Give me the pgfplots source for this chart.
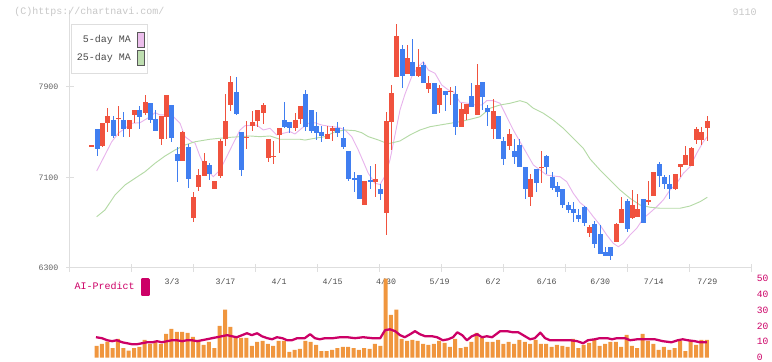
\documentclass[border=0pt]{standalone}
\usepackage{fontspec}
\setmainfont{Liberation Mono}
\usepackage{pgfplots}
\pgfplotsset{compat=1.18}
\usepackage{pgfplotstable}

\definecolor{upred}{RGB}{240,82,62}
\definecolor{dnblue}{RGB}{64,126,240}
\definecolor{maP}{RGB}{232,180,236}
\definecolor{maG}{RGB}{180,218,166}
\definecolor{legP}{RGB}{236,190,236}
\definecolor{legG}{RGB}{190,222,176}
\definecolor{volor}{RGB}{240,150,62}
\definecolor{aicol}{RGB}{204,0,102}
\definecolor{axgray}{RGB}{222,222,222}
\definecolor{lblgray}{RGB}{100,100,100}

\pgfplotstableread{
i O H L C u
1 7380 7380 7380 7380 1
2 7529 7529 7293 7355 0
3 7378 7584 7370 7584 1
4 7584 7717 7505 7644 1
5 7608 7644 7446 7470 0
6 7623 7732 7470 7623 1
7 7608 7679 7461 7529 0
8 7529 7608 7461 7608 1
9 7653 7697 7579 7697 1
10 7697 7732 7529 7637 0
11 7673 7829 7653 7765 1
12 7759 7759 7584 7608 0
13 7614 7697 7511 7511 0
14 7440 7646 7387 7646 1
15 7637 7829 7440 7829 1
16 7741 7741 7416 7452 0
17 7308 7367 7063 7249 0
18 7249 7511 7249 7505 1
19 7372 7396 7005 7087 0
20 6745 6975 6709 6930 1
21 7019 7175 6981 7122 1
22 7116 7314 7116 7246 1
23 7211 7231 7078 7134 0
24 7001 7069 7001 7069 1
25 7116 7440 7098 7423 1
26 7440 7838 7381 7600 1
27 7741 7997 7688 7944 1
28 7856 7988 7653 7661 0
29 7502 7502 7113 7166 0
30 7458 7600 7352 7458 1
31 7555 7688 7511 7591 1
32 7600 7697 7546 7697 1
33 7670 7759 7573 7741 1
34 7272 7440 7237 7440 1
35 7290 7423 7219 7290 1
36 7476 7538 7317 7538 1
37 7608 7767 7538 7546 0
38 7591 7591 7493 7538 0
39 7538 7670 7511 7608 1
40 7617 7732 7573 7732 1
41 7838 7874 7514 7544 0
42 7697 7697 7496 7514 0
43 7555 7679 7432 7496 0
44 7502 7555 7416 7470 0
45 7440 7555 7440 7485 1
46 7514 7555 7425 7538 1
47 7538 7591 7461 7496 0
48 7449 7544 7352 7370 0
49 7334 7334 7069 7087 0
50 7096 7149 6972 7075 0
51 7122 7122 6910 6910 0
52 6857 7069 6857 7069 1
53 7078 7202 6998 7063 0
54 7060 7219 6928 7087 1
55 6998 7043 6901 6954 0
56 6786 7679 6592 7600 1
57 7593 7918 7343 7847 1
58 7988 8457 7988 8351 1
59 8236 8271 7894 8000 0
60 8015 8271 8015 8156 1
61 8121 8324 7997 7997 0
62 7997 8236 7988 8077 1
63 8095 8121 7938 7938 0
64 7885 7997 7850 7935 1
65 7935 7935 7664 7664 0
66 7744 7918 7673 7891 1
67 7867 7867 7690 7829 0
68 7862 7900 7744 7862 1
69 7838 7909 7476 7546 0
70 7546 7759 7546 7706 1
71 7664 7750 7608 7750 1
72 7820 7935 7726 7726 0
73 7655 8103 7655 7918 1
74 7944 7944 7697 7814 0
75 7714 7744 7555 7682 0
76 7529 7794 7440 7688 1
77 7644 7644 7440 7440 0
78 7423 7458 7211 7264 0
79 7378 7529 7343 7485 1
80 7334 7440 7219 7281 0
81 7387 7440 7193 7193 0
82 7193 7193 6910 6998 0
83 6928 7131 6848 7087 1
84 7175 7175 6972 7051 0
85 7193 7334 7051 7193 1
86 7290 7299 7131 7193 0
87 7104 7149 6990 7007 0
88 7025 7060 6928 6972 0
89 6998 6998 6830 6857 0
90 6857 6883 6786 6813 0
91 6822 6883 6707 6786 0
92 6769 6822 6707 6733 0
93 6839 6848 6671 6698 0
94 6609 6680 6574 6662 1
95 6689 6716 6477 6512 0
96 6600 6680 6424 6424 0
97 6441 6486 6406 6406 0
98 6486 6486 6371 6406 0
99 6530 6698 6530 6689 1
100 6698 6928 6698 6822 1
101 6892 6910 6618 6645 0
102 6742 6990 6733 6857 1
103 6751 6954 6751 6822 1
104 6910 6910 6698 6698 0
105 6883 7069 6857 6901 1
106 6936 7149 6936 7149 1
107 7219 7237 7016 7113 0
108 7104 7122 6998 7043 0
109 7043 7122 6910 6998 0
110 6998 7131 6990 7131 1
111 7193 7219 7104 7219 1
112 7211 7378 7211 7299 1
113 7202 7367 7202 7361 1
114 7432 7546 7396 7529 1
115 7432 7546 7387 7502 1
116 7538 7644 7423 7600 1
}\candles

\pgfplotstableread{
i v
2 7.4
3 8.7
4 10.1
5 6.1
6 11.8
7 6.1
8 4.4
9 6.1
10 6.8
11 11.2
12 8.7
13 9.9
14 8.7
15 15.0
16 18.2
17 16.3
18 16.3
19 15.6
20 13.1
21 11.2
22 8.0
23 9.9
24 6.1
25 20.1
26 30.2
27 19.4
28 13.1
29 12.5
30 12.5
31 7.4
32 9.9
33 10.6
34 8.7
35 7.4
36 10.6
37 10.6
38 3.6
39 4.9
40 5.5
41 10.6
42 9.9
43 8.0
44 4.2
45 4.2
46 4.9
47 6.1
48 6.8
49 6.8
50 6.1
51 4.9
52 6.1
53 5.5
54 8.7
55 7.4
56 49.8
57 27.0
58 30.2
59 11.8
60 10.6
61 11.2
62 10.6
63 8.7
64 8.0
65 8.7
66 10.6
67 9.3
68 6.8
69 11.8
70 6.1
71 6.8
72 9.9
73 15.6
74 12.5
75 9.9
76 9.9
77 11.2
78 8.7
79 9.9
80 8.7
81 11.2
82 9.9
83 8.7
84 11.2
85 8.7
86 8.7
87 6.8
88 8.0
89 7.4
90 6.8
91 11.8
92 6.1
93 8.0
94 9.3
95 11.2
96 7.4
97 8.7
98 9.9
99 9.9
100 6.8
101 14.4
102 7.4
103 6.1
104 15.0
105 10.6
106 8.7
107 4.9
108 6.8
109 4.9
110 6.1
111 10.6
112 4.2
113 10.6
114 8.0
115 11.2
116 11.2
}\volume

\begin{document}
\begin{tikzpicture}
\begin{axis}[
  at={(52.5pt,69.75pt)}, anchor=south west,
  scale only axis, width=511.5pt, height=193.5pt,
  xmin=-3.054, xmax=124.35, ymin=6300, ymax=8580.66,
  axis x line=bottom, axis y line=left,
  axis line style={draw=axgray, line width=0.75pt, -},
  xtick={-3.054,8.528,20.110,31.692,43.274,54.856,66.438,78.020,89.602,101.184,112.766,124.348},
  xticklabels={},
  extra x ticks={16,26,36,46,56,66,76,86,96,106,116},
  extra x tick labels={3/3,3/17,4/1,4/15,4/30,5/19,6/2,6/16,6/30,7/14,7/29},
  extra x tick style={major tick length=0pt, tick style={draw=none},
    xticklabel style={font=\fontsize{6.2}{7}\selectfont, text=black!70, inner sep=0pt, anchor=north, yshift=-8pt}},
  ytick={6300,7100,7900}, yticklabels={6300,7100,7900},
  yticklabel style={font=\fontsize{6.2}{7}\selectfont, text=lblgray, inner sep=0pt, anchor=east, xshift=-5.5pt},
  tick style={draw=axgray, line width=0.75pt},
  major tick length=6pt, tick align=center,
  legend plot pos=right, legend cell align=right,
  legend style={at={(axis description cs:0,1)}, anchor=north west, xshift=0.5pt, yshift=-10.5pt,
    draw=axgray, line width=0.75pt, fill=white, font=\fontsize{7.5}{8.5}\selectfont, text=black!70,
    inner xsep=2.3pt, inner ysep=5.6pt, row sep=1.6pt, column sep=2.8pt},
]
\addplot[maP, line width=0.7pt, legend image code/.code={\draw[draw=black!65, fill=legP, line width=0.6pt] (0pt,-5.6pt) rectangle (4.8pt,5.6pt);}] coordinates {
(1.93,7157)(4.74,7416)(5.97,7491)(8.47,7579)(10.02,7584)(11.89,7637)(12.83,7673)(13.76,7653)(15.94,7653)(17.50,7579)(18.43,7461)(19.68,7416)(20.3,7405)(21.2,7290)(22.3,7180)(23.72,7107)(24.97,7166)(26.22,7284)(27.45,7402)(28.71,7520)(29.64,7558)(31.82,7564)(33.06,7520)(34.31,7535)(35.56,7476)(36.79,7491)(38.04,7505)(38.98,7485)(40.23,7535)(41.46,7579)(42.72,7584)(43.97,7564)(45.84,7549)(47.07,7544)(48.32,7520)(49.57,7461)(50.80,7343)(51.74,7240)(52.67,7137)(53.92,7049)(54.86,7038)(55.79,7113)(56.72,7255)(57.66,7476)(58.59,7697)(59.53,7838)(60.78,7991)(62.01,8079)(62.95,8124)(63.88,8050)(65.13,8021)(66.38,7918)(67.62,7874)(68.55,7859)(69.80,7765)(71.35,7756)(72.61,7741)(73.86,7741)(74.79,7779)(76.02,7779)(77.28,7756)(78.53,7637)(79.76,7520)(81.01,7416)(82.26,7314)(83.50,7211)(84.75,7166)(86.00,7122)(87.23,7113)(88.48,7107)(89.74,7063)(90.97,6960)(92.22,6879)(93.47,6830)(94.71,6753)(95.96,6680)(97.21,6592)(98.44,6518)(99.38,6488)(100.31,6518)(101.56,6592)(102.81,6651)(104.05,6739)(105.30,6789)(106.55,6842)(107.78,6901)(109.04,6990)(110.29,7049)(111.52,7137)(112.77,7195)(114.02,7314)(115.26,7416)(116,7461)
};
\addlegendentry{5-day MA}
\addplot[maG, line width=0.7pt, legend image code/.code={\draw[draw=black!65, fill=legG, line width=0.6pt] (0pt,-5.6pt) rectangle (4.8pt,5.6pt);}] coordinates {
(1.93,6753)(3.48,6813)(5.35,6945)(7.22,7034)(9.09,7093)(10.96,7151)(12.83,7226)(14.70,7290)(16.56,7343)(18.43,7387)(20.30,7416)(23.10,7438)(24.97,7447)(26.84,7455)(28.71,7461)(30.58,7467)(32.45,7461)(34.31,7467)(36.18,7438)(38.05,7438)(39.91,7438)(40.85,7431)(42.72,7447)(44.58,7461)(46.45,7505)(48.32,7520)(50.19,7514)(51.44,7496)(52.67,7461)(54.54,7432)(56.11,7402)(56.73,7402)(58.59,7423)(60.46,7476)(62.33,7520)(64.20,7549)(66.07,7564)(67.94,7579)(69.80,7593)(71.67,7614)(73.54,7637)(75.41,7712)(77.28,7741)(79.14,7756)(81.01,7779)(82.26,7761)(83.50,7712)(85.37,7668)(87.23,7608)(89.10,7535)(90.97,7447)(92.84,7358)(94.09,7264)(95.96,7166)(97.83,7078)(99.69,6990)(101.56,6916)(103.43,6857)(105.30,6837)(107.17,6828)(109.04,6828)(110.91,6828)(112.77,6848)(114.64,6886)(116,6925)
};
\addlegendentry{25-day MA}
% wicks
\addplot[draw=none, mark=none, forget plot,
  restrict expr to domain={\thisrow{u}}{0.5:1.5},
  error bars/.cd, y dir=both, y explicit, error mark=none,
  error bar style={draw=upred, line width=0.75pt}]
  table[x=i, y expr={(\thisrow{H}+\thisrow{L})/2}, y error expr={(\thisrow{H}-\thisrow{L})/2}] {\candles};
\addplot[draw=none, mark=none, forget plot,
  restrict expr to domain={\thisrow{u}}{-0.5:0.5},
  error bars/.cd, y dir=both, y explicit, error mark=none,
  error bar style={draw=dnblue, line width=0.75pt}]
  table[x=i, y expr={(\thisrow{H}+\thisrow{L})/2}, y error expr={(\thisrow{H}-\thisrow{L})/2}] {\candles};
% bodies
\addplot[draw=none, mark=none, forget plot,
  restrict expr to domain={\thisrow{u}}{0.5:1.5},
  error bars/.cd, y dir=both, y explicit, error mark=none,
  error bar style={draw=upred, line width=3.75pt}]
  table[x=i, y expr={(\thisrow{O}+\thisrow{C})/2}, y error expr={max(abs(\thisrow{C}-\thisrow{O})/2,4)}] {\candles};
\addplot[draw=none, mark=none, forget plot,
  restrict expr to domain={\thisrow{u}}{-0.5:0.5},
  error bars/.cd, y dir=both, y explicit, error mark=none,
  error bar style={draw=dnblue, line width=3.75pt}]
  table[x=i, y expr={(\thisrow{O}+\thisrow{C})/2}, y error expr={max(abs(\thisrow{C}-\thisrow{O})/2,4)}] {\candles};
\end{axis}

\begin{axis}[
  at={(52.5pt,2.475pt)}, anchor=south west,
  scale only axis, width=511.5pt, height=59.55pt,
  xmin=-3.054, xmax=124.35, ymin=0, ymax=50,
  axis x line=none, axis y line=right, y axis line style={draw=none},
  ytick={0,10,20,30,40,50}, yticklabels={0,10,20,30,40,50},
  major tick length=0pt, tick style={draw=none},
  yticklabel style={text=aicol, font=\fontsize{7.2}{8}\selectfont, anchor=west, inner sep=0pt, xshift=3.5pt},
  clip=false,
  legend plot pos=right, legend cell align=right,
  legend style={at={(axis description cs:0,1)}, anchor=west, xshift=1.3pt, yshift=-6.6pt,
    draw=none, fill=none, inner sep=0pt, font=\fontsize{7.5}{8.5}\selectfont, text=aicol, column sep=2.6pt},
]
\addplot[ybar, bar width=3pt, bar shift=-0.375pt, fill=volor, draw=none, forget plot] table[x=i, y=v] {\volume};
\addplot[aicol, line width=1.7pt, line join=round, legend image code/.code={\fill[aicol] (0pt,-5.8pt) rectangle (5pt,5.8pt);}] coordinates {
(1.8,12.9)(2.9,12.3)(3.9,11.0)(4.8,10.4)(5.7,11.0)(6.7,9.7)(7.6,9.1)(8.5,8.5)(9.5,8.5)(10.4,9.1)(11.3,9.7)(12.3,9.7)(13.2,10.4)(14.1,9.7)(15.1,10.4)(16.0,11.0)(16.9,11.0)(17.9,10.4)(18.8,11.0)(19.7,11.0)(20.7,10.4)(21.6,11.0)(22.5,11.6)(23.5,12.3)(24.4,12.9)(25.3,13.5)(26.3,14.2)(27.2,13.5)(28.1,12.9)(29.1,14.2)(30.0,15.4)(30.9,14.2)(31.9,15.4)(32.8,13.5)(33.8,12.3)(34.7,11.6)(35.6,12.9)(36.6,12.3)(37.5,11.0)(38.4,11.0)(39.4,12.3)(40.8,12.3)(41.8,14.8)(42.7,12.3)(43.6,11.6)(44.6,12.3)(46.1,12.3)(47.4,12.9)(48.7,12.9)(50.2,12.3)(51.7,12.9)(53.4,12.3)(54.9,12.3)(55.8,17.3)(56.7,17.9)(57.7,16.7)(58.6,14.2)(59.5,12.9)(60.5,14.8)(61.4,16.7)(62.3,14.8)(63.3,13.5)(64.6,13.5)(65.5,12.9)(66.6,11.0)(67.6,11.6)(68.5,12.9)(69.3,16.0)(70.2,14.2)(71.1,11.0)(72.0,13.5)(73.0,14.8)(73.9,12.9)(74.8,13.5)(75.8,12.9)(77.3,16.7)(78.6,16.7)(79.7,16.0)(80.7,16.0)(81.6,14.2)(82.9,11.6)(83.8,12.3)(84.8,15.8)(85.7,12.3)(86.6,11.0)(88.5,11.0)(90.4,11.0)(91.7,10.4)(92.8,9.1)(93.7,11.0)(95.0,11.6)(95.9,12.3)(97.3,12.3)(98.2,11.6)(99.1,12.3)(100.6,12.3)(101.6,11.0)(102.9,11.6)(104.7,11.6)(106.2,11.6)(107.7,10.4)(109.3,9.7)(110.5,11.0)(111.4,11.6)(112.3,11.0)(113.7,10.4)(114.6,9.7)(115.9,9.7)
};
\addlegendentry{AI-Predict}
\end{axis}

\node[anchor=west, inner sep=0pt, text=black!22, font=\fontsize{7.5}{8.5}\selectfont] at (10.5pt,261.75pt) {(C)https://chartnavi.com/};
\node[anchor=east, inner sep=0pt, text=black!22, font=\fontsize{7.5}{8.5}\selectfont] at (567.75pt,261.75pt) {9110};
\pgfresetboundingbox
\path (0pt,0pt) rectangle (579pt,270.75pt);
\end{tikzpicture}
\end{document}
